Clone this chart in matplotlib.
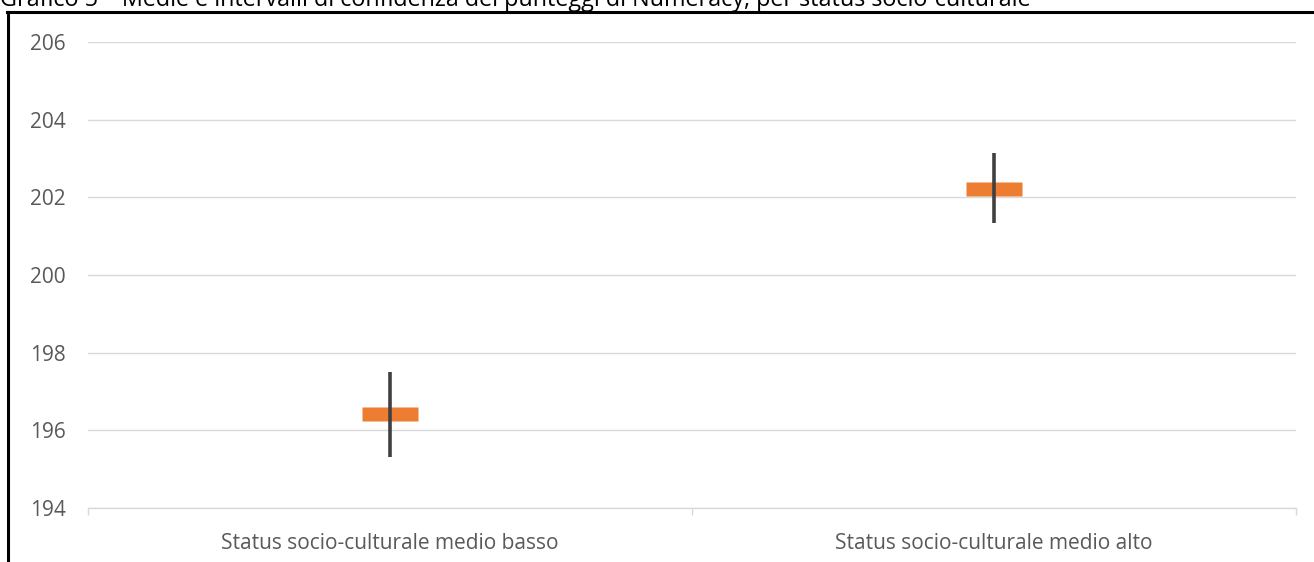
import matplotlib
matplotlib.use("Agg")
import matplotlib.pyplot as plt
from matplotlib.lines import Line2D

# ---- data ----
categories = ["Status socio-culturale medio basso", "Status socio-culturale medio alto"]
means = [196.42, 202.22]
lower = [195.31, 201.34]
upper = [197.50, 203.14]
yticks = [194, 196, 198, 200, 202, 204, 206]
title = "Grafico 5 – Medie e intervalli di confidenza dei punteggi di Numeracy, per status socio-culturale"

W, H = 1314, 562
fig = plt.figure(figsize=(W / 100, H / 100), dpi=100)
fig.patch.set_facecolor("white")

font = "Open Sans"
tick_color = "#595959"
grid_color = "#D9D9D9"

ax = fig.add_axes([88 / W, 1 - 508 / H, (1296 - 88) / W, (508 - 42) / H])
x = list(range(len(categories)))

ax.set_xlim(-0.5, len(categories) - 0.5)
ax.set_ylim(yticks[0], yticks[-1])

# grid
ax.set_yticks(yticks)
ax.yaxis.grid(True, color=grid_color, linewidth=1.0)
ax.set_axisbelow(True)

# error lines
ax.vlines(x, lower, upper, color="#404040", linewidth=2.6, zorder=4)

# mean markers (rectangles)
rect = [(-57, -14), (57, -14), (57, 14), (-57, 14), (-57, -14)]
ax.plot(x, means, linestyle="none", marker=rect, markersize=41,
        markerfacecolor="#ED7D31", markeredgecolor="none", zorder=3)

# spines
for s in ["top", "right", "left"]:
    ax.spines[s].set_visible(False)
ax.spines["bottom"].set_color(grid_color)
ax.spines["bottom"].set_linewidth(1.0)

# x ticks: category labels at centers, tick marks at boundaries
ax.set_xticks(x)
ax.set_xticklabels(categories, fontfamily=font, fontsize=15, color=tick_color)
ax.tick_params(axis="x", length=0, pad=18)
ax.set_xticks([-0.5, 0.5, 1.5], minor=True)
ax.tick_params(axis="x", which="minor", length=5, color=grid_color, width=1.0)

ax.tick_params(axis="y", length=0, pad=16)
for lab in ax.get_yticklabels():
    lab.set_fontfamily(font)
    lab.set_fontsize(15)
    lab.set_color(tick_color)

# outer frame (left and top)
fig.add_artist(Line2D([8 / W, 8 / W], [0, 1 - 11.5 / H], transform=fig.transFigure,
                      color="black", linewidth=2.2))
fig.add_artist(Line2D([7 / W, 1], [1 - 11.5 / H, 1 - 11.5 / H], transform=fig.transFigure,
                      color="black", linewidth=2.2))

# cut-off title
fig.text(0 / W, 1 - 6.5 / H, title, fontfamily=font, fontsize=16.8, color="black",
         ha="left", va="baseline")

fig.savefig("out.png", dpi=100, facecolor="white")
